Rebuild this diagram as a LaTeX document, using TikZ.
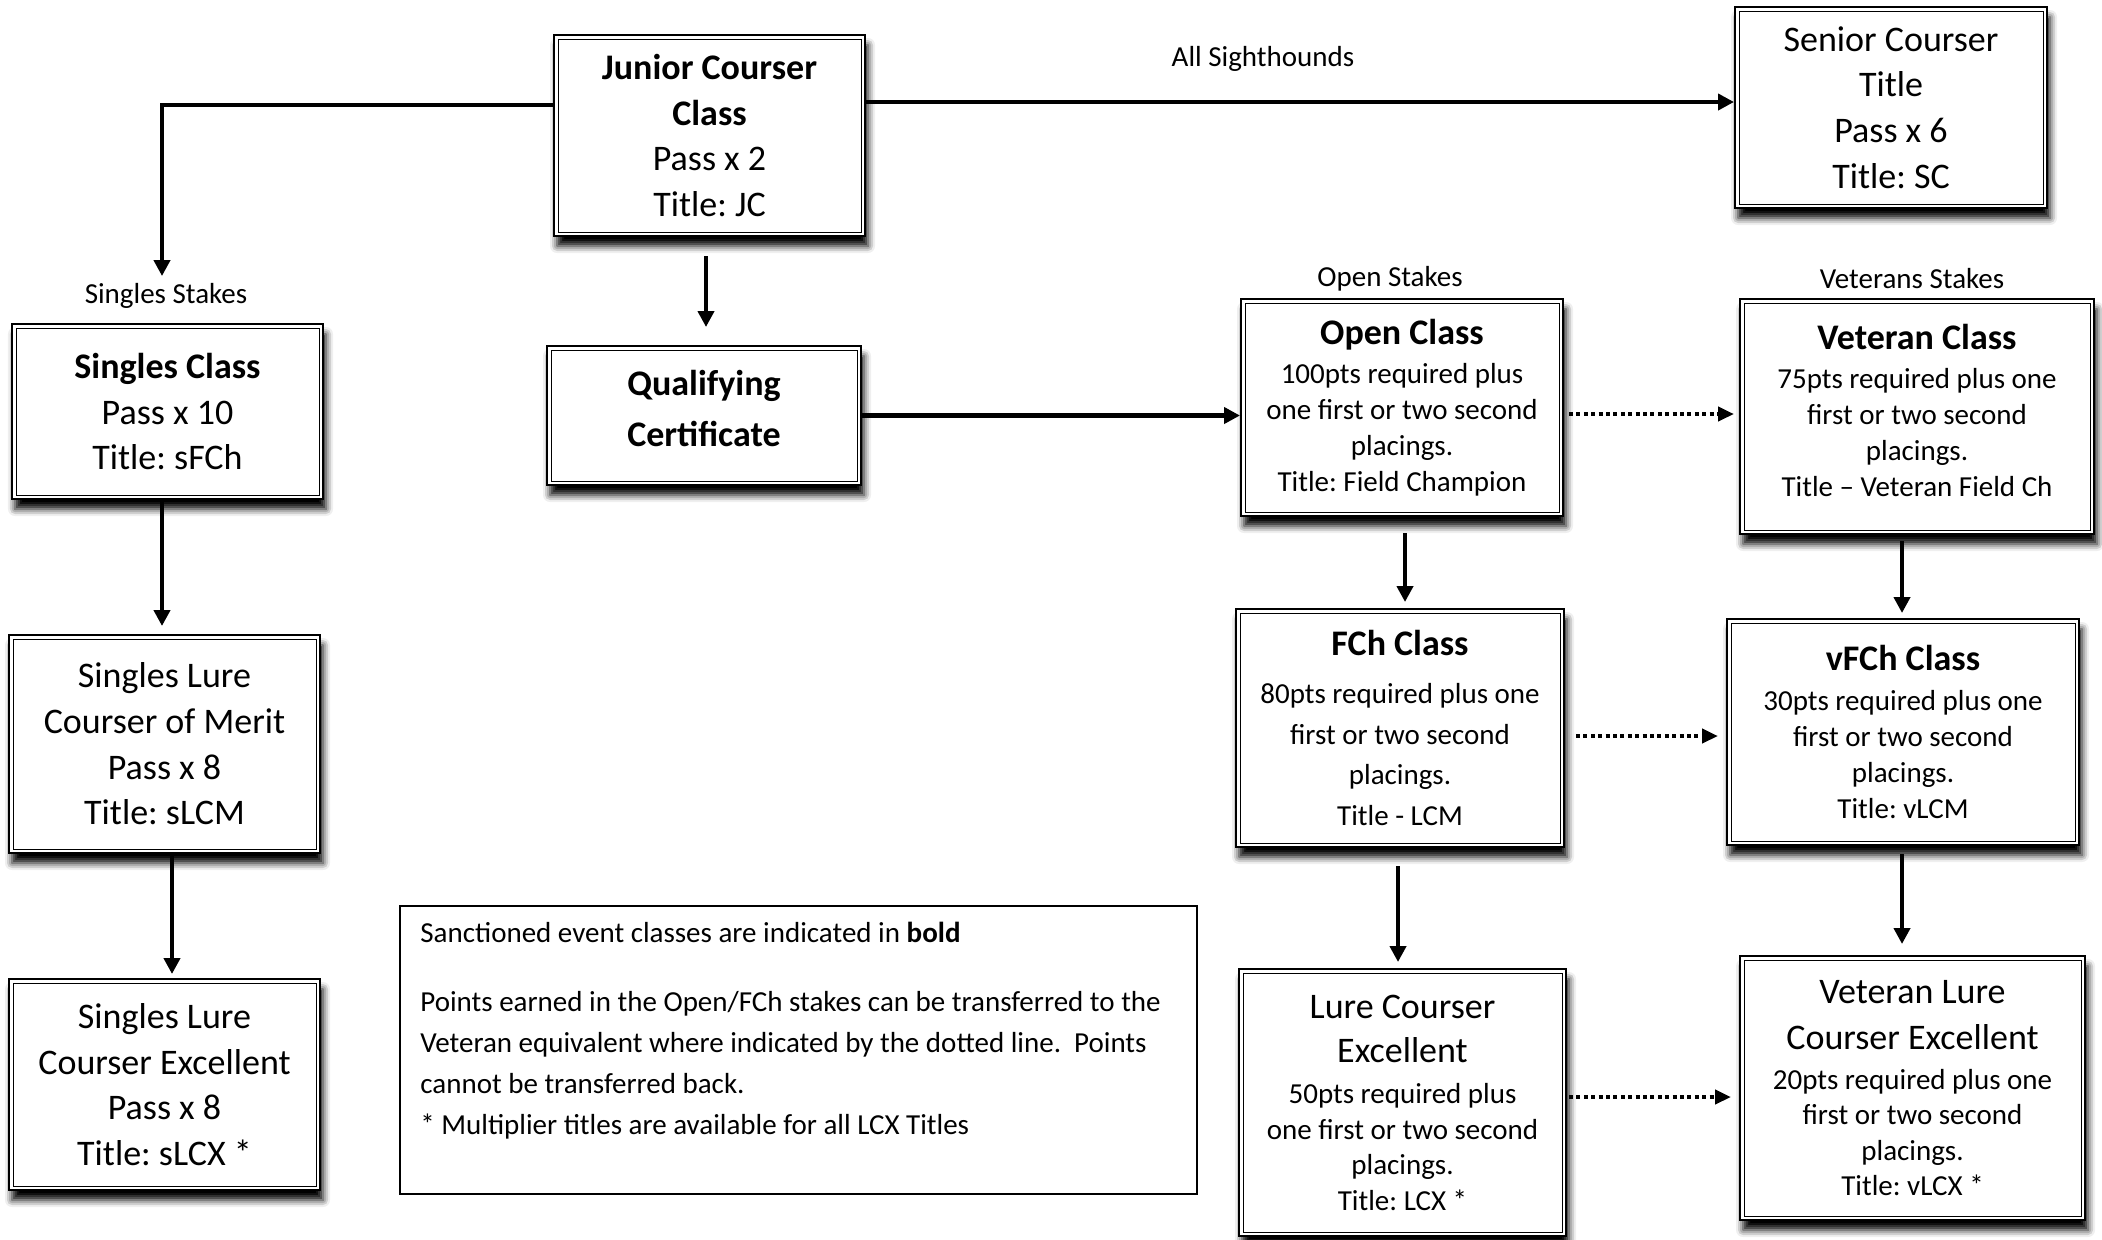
\documentclass[tikz,border=0pt]{standalone}
\usepackage{fontspec}
\setmainfont{Carlito}
\usepackage{tikz}
\usetikzlibrary{arrows.meta,calc,shadows.blur}
\frenchspacing

\newcommand{\bigtxt}{\fontsize{18}{22.8}\selectfont}
\newcommand{\smalltxt}{\fontsize{14.5}{18}\selectfont}

\begin{document}
\begin{tikzpicture}[
x=0.5pt,y=-0.5pt,
box/.style={draw,line width=1pt,fill=white,align=center,inner sep=0pt,
  blur shadow={shadow xshift=1.5pt,shadow yshift=-5pt,shadow blur radius=3.5pt,shadow opacity=100},
  path picture={\draw[line width=0.5pt] ($(path picture bounding box.south west)+(2pt,2pt)$) rectangle ($(path picture bounding box.north east)+(-2pt,-2pt)$);}},
bigbox/.style={box,font=\bigtxt},
ptsbox/.style={box,font=\smalltxt},
lbl/.style={font=\smalltxt,inner sep=0pt},
notetxt/.style={font=\fontsize{14.5}{20.5}\selectfont,align=left,inner sep=0pt},
t/.style={line width=2.2pt,-{Triangle[length=8pt,width=8pt]}},
xfer/.style={line width=2pt,dash pattern=on 2pt off 1.7pt,-{Triangle[length=8pt,width=7pt]}}
]
\useasboundingbox (0,0) rectangle (2102,1239);

\node[bigbox,minimum width=155.5pt,minimum height=100.5pt] (junior) at (709.5,135.5)
  {\textbf{Junior Courser}\\\textbf{Class}\\Pass x 2\\Title: JC};
\node[bigbox,minimum width=156pt,minimum height=100.5pt] (senior) at (1891,107.5)
  {Senior Courser\\Title\\Pass x 6\\Title: SC};
\node[bigbox,minimum width=155.5pt,minimum height=87.5pt] (singles) at (167.5,411.5)
  {\textbf{Singles Class}\\Pass x 10\\Title: sFCh};
\node[bigbox,minimum width=155.5pt,minimum height=109pt] (merit) at (164.5,744)
  {Singles Lure\\Courser of Merit\\Pass x 8\\Title: sLCM};
\node[bigbox,minimum width=155.5pt,minimum height=105.5pt] (slcx) at (164.5,1084.5)
  {Singles Lure\\Courser Excellent\\Pass x 8\\Title: sLCX *};
\node[bigbox,minimum width=157pt,minimum height=69.5pt] (qual) at (704,415.5)
  {\textbf{Qualifying}\\[2.7pt]\textbf{Certificate}\\[-16pt]\mbox{}};

\node[ptsbox,minimum width=161pt,minimum height=108.5pt] (open) at (1402,407.5)
  {{\bigtxt\bfseries Open Class}\\[1.5pt]100pts required plus\\one first or two second\\placings.\\Title: Field Champion};
\node[ptsbox,minimum width=177pt,minimum height=117.5pt] (veteran) at (1917,416.5)
  {{\bigtxt\bfseries Veteran Class}\\[1.5pt]75pts required plus one\\first or two second\\placings.\\Title – Veteran Field Ch\\[-11.4pt]\mbox{}};
\node[ptsbox,font=\fontsize{14.5}{20.3}\selectfont,minimum width=164pt,minimum height=119pt] (fch) at (1400,728)
  {{\bigtxt\bfseries FCh Class}\\[3.7pt]80pts required plus one\\first or two second\\placings.\\Title - LCM};
\node[ptsbox,minimum width=176pt,minimum height=113pt] (vfch) at (1903,732)
  {{\bigtxt\bfseries vFCh Class}\\[2.1pt]30pts required plus one\\first or two second\\placings.\\Title: vLCM};
\node[ptsbox,font=\fontsize{14.5}{17.7}\selectfont,minimum width=163.5pt,minimum height=133.5pt] (lcx) at (1402.5,1102.5)
  {{\bigtxt Lure Courser}\\[4.4pt]{\bigtxt Excellent}\\[3.1pt]50pts required plus\\one first or two second\\placings.\\Title: LCX *};
\node[ptsbox,font=\fontsize{14.5}{17.7}\selectfont,minimum width=172.5pt,minimum height=132pt] (vlcx) at (1912.5,1088)
  {{\bigtxt Veteran Lure}\\[5.1pt]{\bigtxt Courser Excellent}\\[2.4pt]20pts required plus one\\first or two second\\placings.\\Title: vLCX *};

\node[lbl] (allsh) at (1263,59) {All Sighthounds};
\node[lbl] (sstakes) at (166,296) {Singles Stakes};
\node[lbl] (ostakes) at (1390,279) {Open Stakes};
\node[lbl] (vstakes) at (1912,279) {Veterans Stakes};

\node[draw,line width=0.6pt,minimum width=398.5pt,minimum height=144pt,inner sep=0pt] (note) at (798.5,1050) {};
\node[notetxt,anchor=north west] (notetext) at (420,922)
  {Sanctioned event classes are indicated in \textbf{bold}\\[14pt]
   Points earned in the Open/FCh stakes can be transferred to the\\
   Veteran equivalent where indicated by the dotted line.\ \ Points\\
   cannot be transferred back.\\
   * Multiplier titles are available for all LCX Titles};

\draw[t] ($(junior.west)+(0,15.25pt)$) -| ($(sstakes.north)+(-2pt,3.5pt)$);
\draw[t] ($(junior.east)+(0,16.75pt)$) -- ($(junior.east -| senior.west)+(0,16.75pt)$);
\draw[t] ($(junior.south)+(-1.75pt,-9.5pt)$) -- ($(qual.north)+(1pt,9pt)$);
\draw[t] (qual.east) -- (qual.east -| open.west);
\draw[t] ($(singles.south)+(-2.75pt,-1pt)$) -- ($(merit.north)+(-1.25pt,4pt)$);
\draw[t] ($(merit.south)+(3.75pt,-1pt)$) -- ($(slcx.north)+(3.75pt,2pt)$);
\draw[t] ($(open.south)+(1.5pt,-8pt)$) -- ($(fch.north)+(2.5pt,3pt)$);
\draw[t] ($(fch.south)+(-1pt,-9pt)$) -- ($(lcx.north)+(-2.25pt,3pt)$);
\draw[t] ($(veteran.south)+(-7.5pt,-3pt)$) -- ($(vfch.north)+(-0.5pt,2.5pt)$);
\draw[t] ($(vfch.south)+(-0.5pt,-4pt)$) -- ($(vlcx.north)+(-5.25pt,5.5pt)$);
\draw[xfer] ($(open.east)+(2.5pt,-3.25pt)$) -- ($(open.east -| veteran.west)+(-2.5pt,-3.25pt)$);
\draw[xfer] ($(fch.east)+(5.5pt,-4pt)$) -- ($(fch.east -| vfch.west)+(-4pt,-4pt)$);
\draw[xfer] ($(lcx.east)+(1pt,2.75pt)$) -- ($(lcx.east -| vlcx.west)+(-4pt,2.75pt)$);
\end{tikzpicture}
\end{document}
